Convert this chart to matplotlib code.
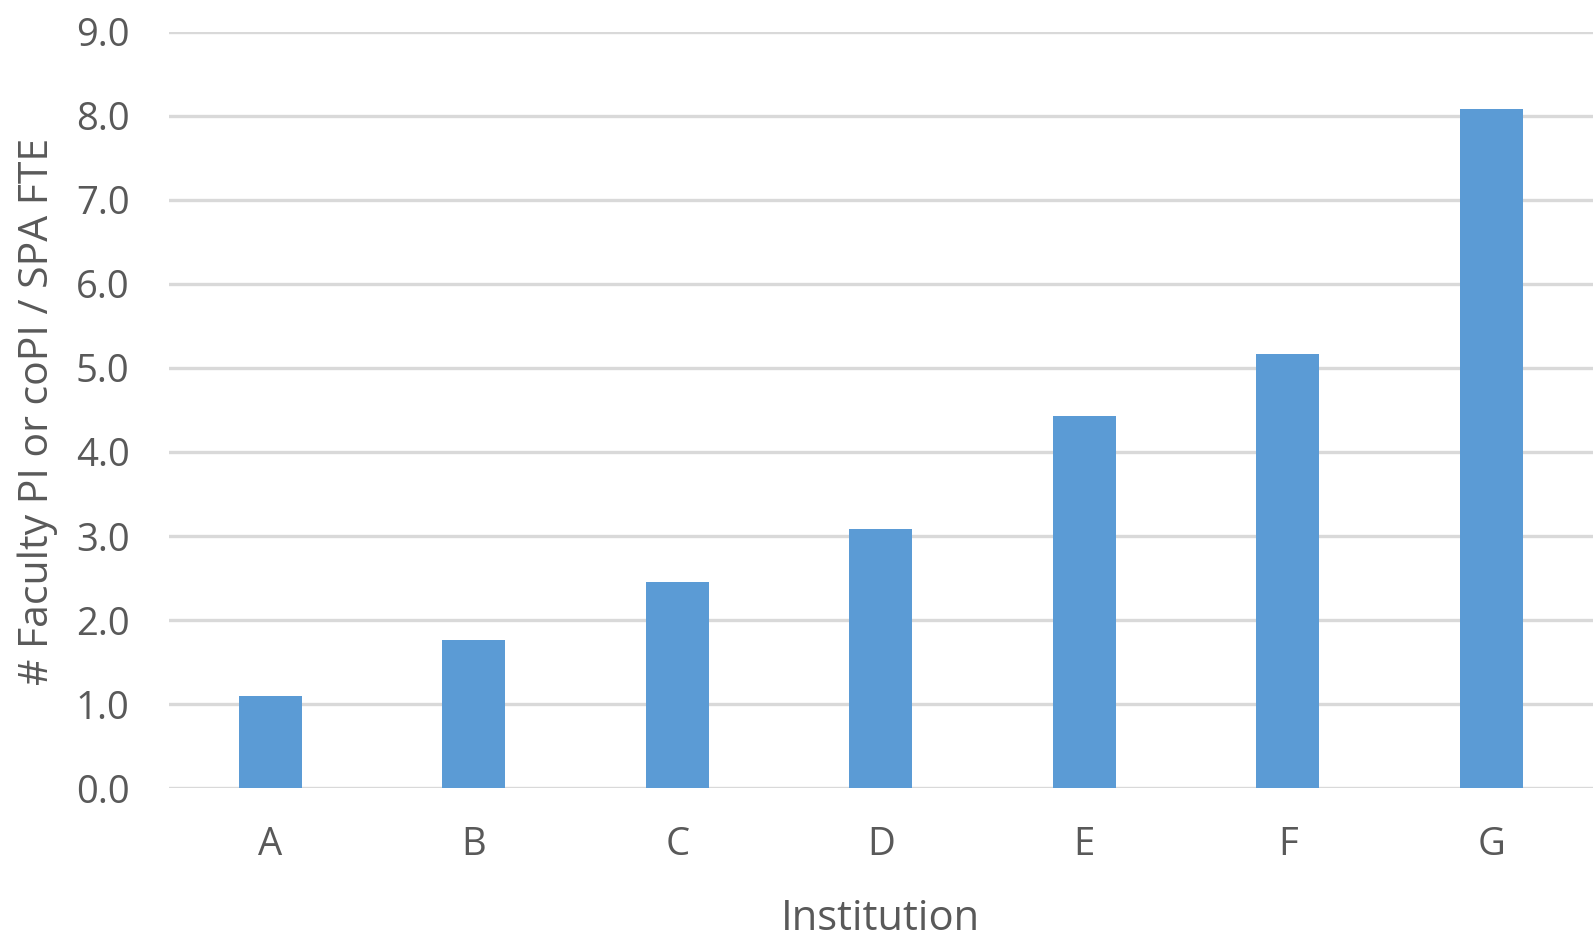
import matplotlib.pyplot as plt

institutions = ['A', 'B', 'C', 'D', 'E', 'F', 'G']
fte_ratio = [1.10, 1.77, 2.45, 3.08, 4.43, 5.17, 8.08]
y_ticks = [0, 1, 2, 3, 4, 5, 6, 7, 8, 9]

plt.rcParams['font.family'] = ['Open Sans', 'DejaVu Sans']
text_color = '#595959'

fig = plt.figure(figsize=(15.93, 9.35), dpi=100)
ax = fig.add_axes([0.1058, 0.1568, 0.8942, 0.8095])

x = range(len(institutions))
ax.bar(x, fte_ratio, width=0.31, color='#5b9bd5', zorder=3)

ax.set_xlim(-0.5, 6.5)
ax.set_ylim(0, 9)
ax.set_yticks(y_ticks)
ax.set_yticklabels([f'{v:.1f}' for v in y_ticks])
ax.set_xticks(list(x))
ax.set_xticklabels(institutions)

ax.grid(axis='y', color='#d9d9d9', linewidth=2.4, zorder=0)
for s in ax.spines.values():
    s.set_visible(False)
ax.tick_params(axis='both', length=0, labelsize=27.5, labelcolor=text_color)
ax.tick_params(axis='y', pad=28)
ax.tick_params(axis='x', pad=27)

ax.set_ylabel('# Faculty PI or coPI / SPA FTE', fontsize=29.5, color=text_color)
ax.yaxis.set_label_coords(-0.092, 0.4985)
ax.set_xlabel('Institution', fontsize=30, color=text_color)
ax.xaxis.set_label_coords(0.5, -0.172)
ax.xaxis.label.set_va('center')
ax.yaxis.label.set_va('center')

plt.savefig('out.png', dpi=100)
